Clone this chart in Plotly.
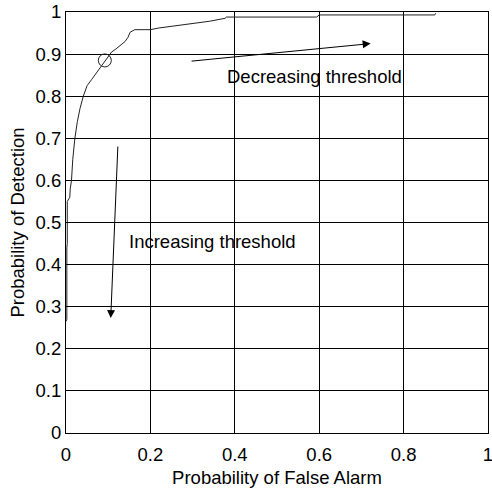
import plotly.graph_objects as go

# ROC curve (probability of false alarm, probability of detection)
pfa = [0.0, 0.002, 0.002, 0.003, 0.003, 0.009, 0.010, 0.013, 0.016, 0.021, 0.027, 0.033,
       0.041, 0.050, 0.061, 0.075, 0.092, 0.108, 0.118, 0.125, 0.132, 0.140, 0.147, 0.152,
       0.163, 0.200, 0.220, 0.260, 0.300, 0.340, 0.377, 0.380, 0.594, 0.600, 0.874, 0.876]
pd_ = [0.265, 0.270, 0.440, 0.450, 0.550, 0.560, 0.580, 0.600, 0.650, 0.700, 0.740, 0.770,
       0.800, 0.825, 0.840, 0.860, 0.885, 0.905, 0.912, 0.918, 0.925, 0.930, 0.940, 0.952,
       0.958, 0.958, 0.962, 0.967, 0.972, 0.978, 0.985, 0.988, 0.988, 0.993, 0.993, 0.997]

# operating point marked with a circle
op_x = [0.092]
op_y = [0.885]

ticks = [0, 0.2, 0.4, 0.6, 0.8, 1]
tick_text = ["0", "0.2", "0.4", "0.6", "0.8", "1"]
yticks = [0, 0.1, 0.2, 0.3, 0.4, 0.5, 0.6, 0.7, 0.8, 0.9, 1]
ytick_text = ["0", "0.1", "0.2", "0.3", "0.4", "0.5", "0.6", "0.7", "0.8", "0.9", "1"]

FONT = "Liberation Sans, Arial, Helvetica, sans-serif"
FS = 18.5

fig = go.Figure()
fig.add_trace(go.Scatter(x=pfa, y=pd_, mode="lines",
                         line=dict(color="#222222", width=1), showlegend=False))
fig.add_trace(go.Scatter(x=op_x, y=op_y, mode="markers",
                         marker=dict(symbol="circle-open", size=13,
                                     line=dict(color="#222222", width=1), color="#222222"),
                         showlegend=False))

# arrows
fig.add_annotation(x=0.722, y=0.925, ax=0.294, ay=0.883, xref="x", yref="y",
                   axref="x", ayref="y", showarrow=True, arrowhead=2, arrowsize=1.6,
                   arrowwidth=1, arrowcolor="black", text="")
fig.add_annotation(x=0.106, y=0.273, ax=0.123, ay=0.684, xref="x", yref="y",
                   axref="x", ayref="y", showarrow=True, arrowhead=2, arrowsize=1.6,
                   arrowwidth=1, arrowcolor="black", text="")
fig.add_annotation(x=0.588, y=0.847, xref="x", yref="y", text="Decreasing threshold",
                   showarrow=False, font=dict(family=FONT, size=FS, color="black"))
fig.add_annotation(x=0.348, y=0.454, xref="x", yref="y", text="Increasing threshold",
                   showarrow=False, font=dict(family=FONT, size=FS, color="black"))

axis_common = dict(showgrid=True, gridcolor="black", gridwidth=1, zeroline=False,
                   showline=True, linecolor="black", linewidth=1, mirror=True,
                   ticks="inside", ticklen=5, tickcolor="black", automargin=False,
                   ticklabeloverflow="allow",
                   tickfont=dict(family=FONT, size=FS, color="black"))

fig.update_xaxes(range=[0, 1], tickvals=ticks, ticktext=tick_text, ticklabelstandoff=5,
                 title=dict(text="Probability of False Alarm",
                            font=dict(family=FONT, size=FS, color="black"), standoff=6),
                 **axis_common)
fig.update_yaxes(range=[0, 1], tickvals=yticks, ticktext=ytick_text,
                 title=dict(text="Probability of Detection",
                            font=dict(family=FONT, size=FS, color="black"), standoff=6),
                 **axis_common)

fig.update_layout(width=492, height=488, margin=dict(l=66, r=4, t=12, b=55),
                  plot_bgcolor="white", paper_bgcolor="white",
                  font=dict(family=FONT, size=FS, color="black"))

fig.write_html("out.html")
